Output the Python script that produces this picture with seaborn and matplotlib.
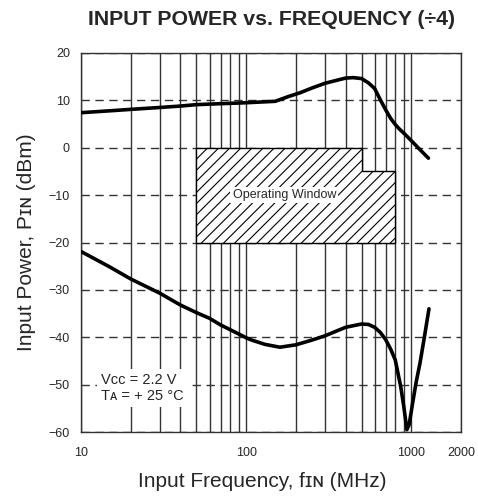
import numpy as np
import pandas as pd
import matplotlib
matplotlib.use('Agg')
import matplotlib.pyplot as plt
from matplotlib.ticker import LogLocator, NullFormatter, FixedLocator, FixedFormatter
import seaborn as sns

# upper curve (max input power)
upper_freq = [10, 15, 20, 30, 40, 50, 70, 100, 150, 180, 212, 250, 300, 350, 400, 445, 500,
              550, 600, 650, 700, 750, 800, 850, 900, 1000, 1100, 1270]
upper_dbm = [7.4, 7.8, 8.1, 8.5, 8.8, 9.1, 9.3, 9.5, 9.8, 10.8, 11.6, 12.6, 13.6, 14.2,
             14.7, 14.8, 14.6, 13.7, 12.5, 10.1, 8.0, 6.2, 4.9, 3.9, 3.1, 1.5, 0.0, -2.2]

# lower curve (min input power / sensitivity)
lower_freq = [10, 15, 20, 30, 40, 50, 60, 70, 80, 90, 100, 106, 130, 160, 200, 250, 300,
              400, 500, 550, 600, 650, 700, 750, 800, 863, 900, 940, 970, 1020, 1070, 1130,
              1200, 1280]
lower_dbm = [-21.9, -25.2, -27.7, -30.7, -33.2, -34.8, -36.0, -37.4, -38.4, -39.3, -40.1,
             -40.5, -41.5, -42.1, -41.6, -40.6, -39.7, -37.9, -37.2, -37.3, -37.9, -39.0,
             -40.5, -42.5, -44.8, -50.4, -54.5, -59.5, -58.5, -53.8, -49.5, -45.4, -40.0,
             -34.0]

# operating window outline (MHz, dBm)
win_freq = [50, 500, 500, 800, 800, 50]
win_dbm = [0, 0, -5, -5, -20, -20]

x_ticks = [10, 100, 1000, 2000]
x_ticklabels = ['10', '100', '1000', '2000']
y_ticks = [-60, -50, -40, -30, -20, -10, 0, 10, 20]

sns.set_style('white')
plt.rcParams['font.family'] = ['Liberation Sans', 'DejaVu Sans']
plt.rcParams['hatch.linewidth'] = 0.8

fig = plt.figure(figsize=(4.78, 4.98), dpi=100)
ax = fig.add_axes([0.1695, 0.1325, 0.7949, 0.7611])

ax.set_xscale('log')
ax.set_xlim(10, 2000)
ax.set_ylim(-60, 20)

grid_color = '#333333'
ax.xaxis.set_major_locator(FixedLocator(x_ticks))
ax.xaxis.set_major_formatter(FixedFormatter(x_ticklabels))
ax.xaxis.set_minor_locator(LogLocator(base=10, subs=np.arange(2, 10)))
ax.xaxis.set_minor_formatter(NullFormatter())
ax.set_yticks(y_ticks)

ax.set_axisbelow(True)
ax.grid(True, axis='x', which='both', color=grid_color, lw=1.0, ls='-')
ax.grid(True, axis='y', which='major', color=grid_color, lw=1.0, ls=(0, (6, 4)))

for s in ax.spines.values():
    s.set_color(grid_color)
    s.set_linewidth(1.0)

ax.tick_params(axis='both', which='both', length=0, labelsize=9)
ax.tick_params(axis='y', pad=8)
ax.tick_params(axis='x', pad=11)

# operating window
ax.fill(win_freq, win_dbm, facecolor='white', edgecolor='black', hatch='///',
        lw=1.0, zorder=1.5)
ax.text(170, -10, 'Operating Window', ha='center', va='center', fontsize=9,
        bbox=dict(facecolor='white', edgecolor='none', pad=1.5), zorder=2)

# curves
upper = pd.DataFrame({'freq': upper_freq, 'dbm': upper_dbm})
lower = pd.DataFrame({'freq': lower_freq, 'dbm': lower_dbm})
sns.lineplot(data=upper, x='freq', y='dbm', color='black', lw=2.6, sort=False,
             ax=ax, zorder=3)
sns.lineplot(data=lower, x='freq', y='dbm', color='black', lw=2.6, sort=False,
             ax=ax, zorder=3)

ax.text(13.3, -50.7, 'V\u1d04\u1d04 = 2.2 V\nT\u1d00 = + 25 \u00b0C', ha='left',
        va='center', fontsize=10.5, linespacing=1.1,
        bbox=dict(facecolor='white', edgecolor='none', pad=3), zorder=2)

ax.set_title('INPUT POWER vs. FREQUENCY (\u00f74)', fontsize=15.3, fontweight='bold', pad=20)
ax.set_xlabel('Input Frequency, f\u026a\u0274 (MHz)', fontsize=15)
ax.set_ylabel('Input Power, P\u026a\u0274 (dBm)', fontsize=15, labelpad=9)
ax.xaxis.set_label_coords(0.476, -0.105)

fig.savefig('out.png', dpi=100)
